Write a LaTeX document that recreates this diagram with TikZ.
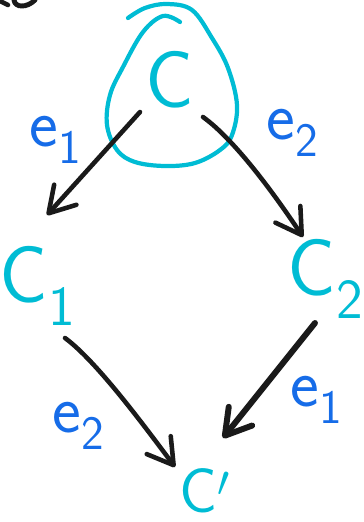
\documentclass[tikz,border=0pt]{standalone}
\usepackage{tikz}
\usetikzlibrary{arrows.meta,calc}
\definecolor{objcyan}{RGB}{  0,188,212}
\definecolor{edgeblue}{RGB}{ 22,108,232}
\definecolor{ink}    {RGB}{ 26, 26, 26}
\tikzset{
  obj/.style  ={text=objcyan,inner sep=0pt,
                 font=\sffamily\fontsize{46}{46}\selectfont},
  objs/.style ={obj,font=\sffamily\fontsize{36}{36}\selectfont},
  lbl/.style  ={text=edgeblue,inner sep=0pt,
                 font=\sffamily\fontsize{39}{39}\selectfont},
  arr/.style  ={-{Straight Barb[round,length=0.5cm,width=0.6cm]},
                 line width=2.6pt,line cap=round,draw=ink},
  loopc/.style={draw=objcyan,line width=2.4pt,line cap=round,line join=round},
}

\begin{document}
\begin{tikzpicture}[x=0.02cm,y=-0.02cm]
  \useasboundingbox (0,0) rectangle (363,522);
  % objects
  \node[obj]  (C)  at (170,80)  {C};
  \node[obj]  (C1) at (38,286)  {C\textsubscript{1}};
  \node[obj]  (C2) at (326,279) {C\textsubscript{2}};
  \node[objs] (Cp) at (205,491) {C$'$};
  % edge names
  \node[lbl]  (e1a) at (56,140)  {e\textsubscript{1}};
  \node[lbl]  (e2a) at (293,133) {e\textsubscript{2}};
  \node[lbl]  (e2b) at (79,426)  {e\textsubscript{2}};
  \node[lbl]  (e1b) at (317,400) {e\textsubscript{1}};
  % ring round C
  \draw[loopc] plot[smooth,tension=0.6] coordinates {
    (128,18) (145,8) (167,4) (192,10) (212,38) (228,68) (237,105)
    (232,135) (220,150) (195,163) (165,166) (135,162) (117,150)
    (107,125) (110,95) (123,67) (143,32) (163,16) (180,22)};
  % arrows
  \draw[arr] ($(C)+(-30,32)$) -- ($(C1)+(9,-71)$);
  \draw[arr] ($(C)+(33,37)$) .. controls ($(C)+(65,60)$) and ($(C)+(105,115)$)
             .. ($(C2)+(-23,-42)$);
  \draw[arr] ($(C1)+(27,52)$) .. controls ($(C1)+(57,74)$) and ($(C1)+(102,134)$)
             .. ($(Cp)+(-30,-24)$);
  \draw[arr,line width=3.4pt] ($(C2)+(-11,44)$) -- ($(Cp)+(18,-53)$);
  % stroke cut by the top edge
  \draw[draw=ink,line width=2.6pt,line cap=round] (0,1) -- (8,5);
  \draw[draw=ink,line width=2.8pt,line cap=round] (14,0) .. controls (15,8) and (27,8) .. (35,0);
\end{tikzpicture}
\end{document}
